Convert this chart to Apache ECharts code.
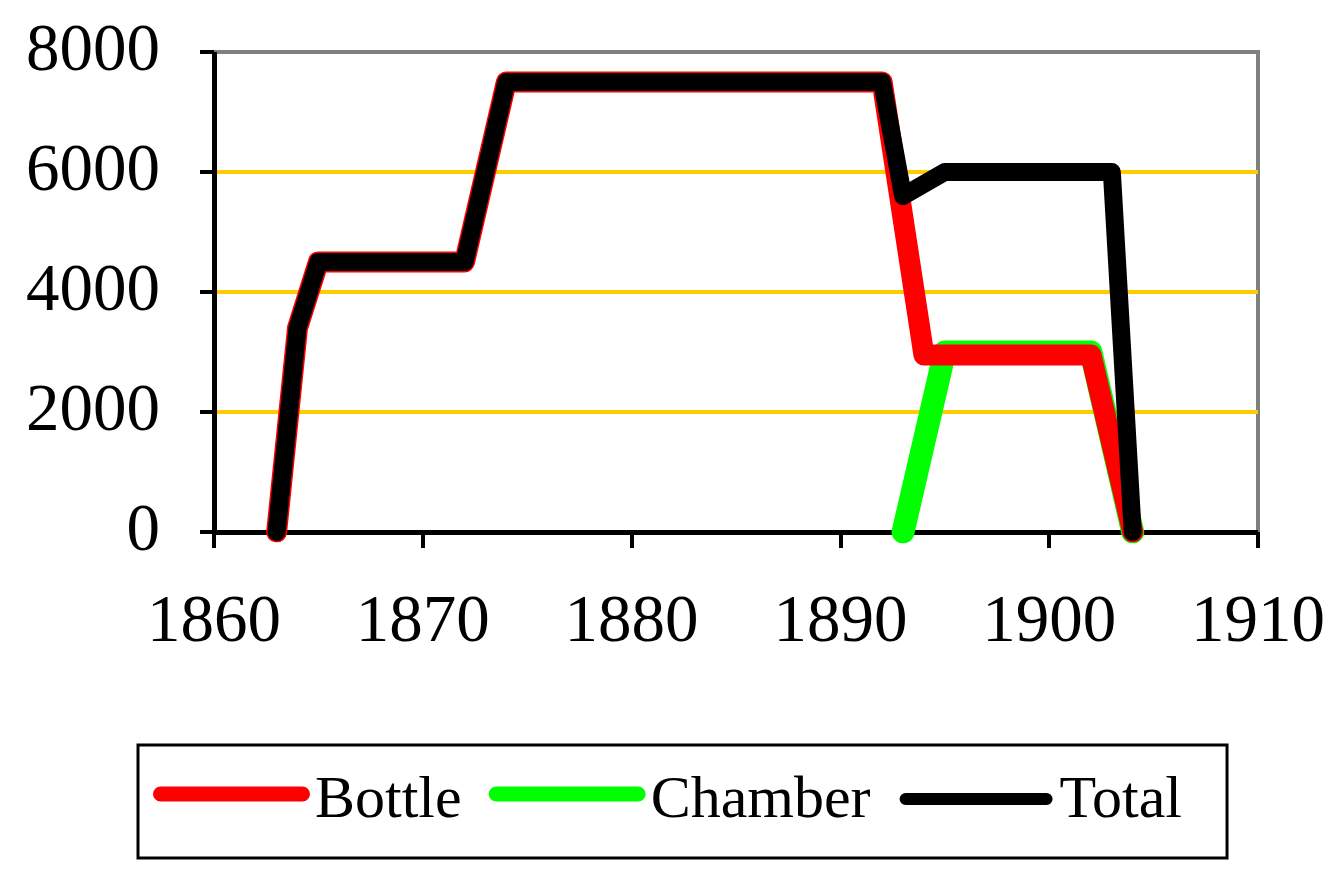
<!DOCTYPE html>
<html>
<head>
<meta charset="utf-8">
<script src="https://cdn.jsdelivr.net/npm/echarts@6/dist/echarts.min.js"></script>
<style>
html,body{margin:0;padding:0;background:#fff;}
#chart{width:1344px;height:888px;}
</style>
</head>
<body>
<div id="chart"></div>
<script>
// ---- data ----
const seriesNames = ['Bottle', 'Chamber', 'Total'];
const bottleYears = [1863, 1864, 1865, 1872, 1874, 1892, 1894, 1902, 1904];
const bottleValues = [0, 3400, 4500, 4500, 7500, 7500, 2950, 2950, 0];
const chamberYears = [1893, 1895, 1902, 1904];
const chamberValues = [0, 3000, 3000, 0];
const totalYears = [1863, 1864, 1865, 1872, 1874, 1892, 1893, 1895, 1903, 1904];
const totalValues = [0, 3400, 4500, 4500, 7500, 7500, 5600, 6000, 6000, 0];
const xTicks = [1860, 1870, 1880, 1890, 1900, 1910];
const yTicks = [0, 2000, 4000, 6000, 8000];

function zip(xs, ys) { return xs.map((x, i) => [x, ys[i]]); }

const FONT = 'Liberation Serif';
// capsule legend icons inside a 157x29 box (degenerate subpaths fix the box)
const capsuleThick = 'path://M0,0L157,0ZM0,29L157,29ZM7.5,0L149.5,0A7.5,7.5,0,0,1,149.5,15L7.5,15A7.5,7.5,0,0,1,7.5,0Z';
const capsuleThin = 'path://M0,0L157,0ZM0,29L157,29ZM8,6.5L149,6.5A6,6,0,0,1,149,18.5L8,18.5A6,6,0,0,1,8,6.5Z';
const plain = v => String(v);

const chart = echarts.init(document.getElementById('chart'), null, {renderer: 'canvas'});
chart.setOption({
  animation: false,
  backgroundColor: '#ffffff',
  grid: {left: 214, right: 86, top: 52, bottom: 356, show: true,
    borderColor: '#808080', borderWidth: 4, backgroundColor: 'transparent', z: 0},
  xAxis: {
    type: 'value',
    min: xTicks[0], max: xTicks[xTicks.length - 1], interval: 10,
    axisLine: {show: true, onZero: false, lineStyle: {color: '#000', width: 5, cap: 'butt'}},
    axisTick: {show: true, length: 16, lineStyle: {color: '#000', width: 4}},
    axisLabel: {fontFamily: FONT, fontSize: 67, color: '#000', margin: 58,
      formatter: plain, showMinLabel: true, showMaxLabel: true},
    splitLine: {show: false}, z: 1
  },
  yAxis: {
    type: 'value',
    min: yTicks[0], max: yTicks[yTicks.length - 1], interval: 2000,
    axisLine: {show: true, onZero: false, lineStyle: {color: '#000', width: 5, cap: 'butt'}},
    axisTick: {show: true, length: 14, lineStyle: {color: '#000', width: 4}},
    axisLabel: {fontFamily: FONT, fontSize: 67, color: '#000', margin: 54, formatter: plain},
    splitLine: {show: true, showMinLine: false, showMaxLine: false,
      lineStyle: {color: '#FFCC00', width: 4}}, z: 1
  },
  legend: {
    data: [
      {name: seriesNames[0], icon: capsuleThick},
      {name: seriesNames[1], icon: capsuleThick},
      {name: seriesNames[2], icon: capsuleThin}
    ],
    left: 138, top: 745,
    padding: [26, 45, 27, 15],
    borderColor: '#000', borderWidth: 3,
    itemWidth: 157, itemHeight: 29, itemGap: 27,
    itemStyle: {borderWidth: 0},
    textStyle: {fontFamily: FONT, fontSize: 60, color: '#000'}
  },
  series: [{
    name: 'Bottle', type: 'line', z: 3,
    data: zip(bottleYears, bottleValues),
    showSymbol: false, symbol: 'none',
    color: '#FF0000', itemStyle: {color: '#FF0000'},
    lineStyle: {color: '#FF0000', width: 21, cap: 'round', join: 'round'}
  }, {
    name: 'Chamber', type: 'line', z: 2,
    data: zip(chamberYears, chamberValues),
    showSymbol: false, symbol: 'none',
    color: '#00FF00', itemStyle: {color: '#00FF00'},
    lineStyle: {color: '#00FF00', width: 23, cap: 'round', join: 'round'}
  }, {
    name: 'Total', type: 'line', z: 4,
    data: zip(totalYears, totalValues),
    showSymbol: false, symbol: 'none',
    color: '#000000', itemStyle: {color: '#000000'},
    lineStyle: {color: '#000000', width: 18, cap: 'round', join: 'round'}
  }]
});
</script>
</body>
</html>
